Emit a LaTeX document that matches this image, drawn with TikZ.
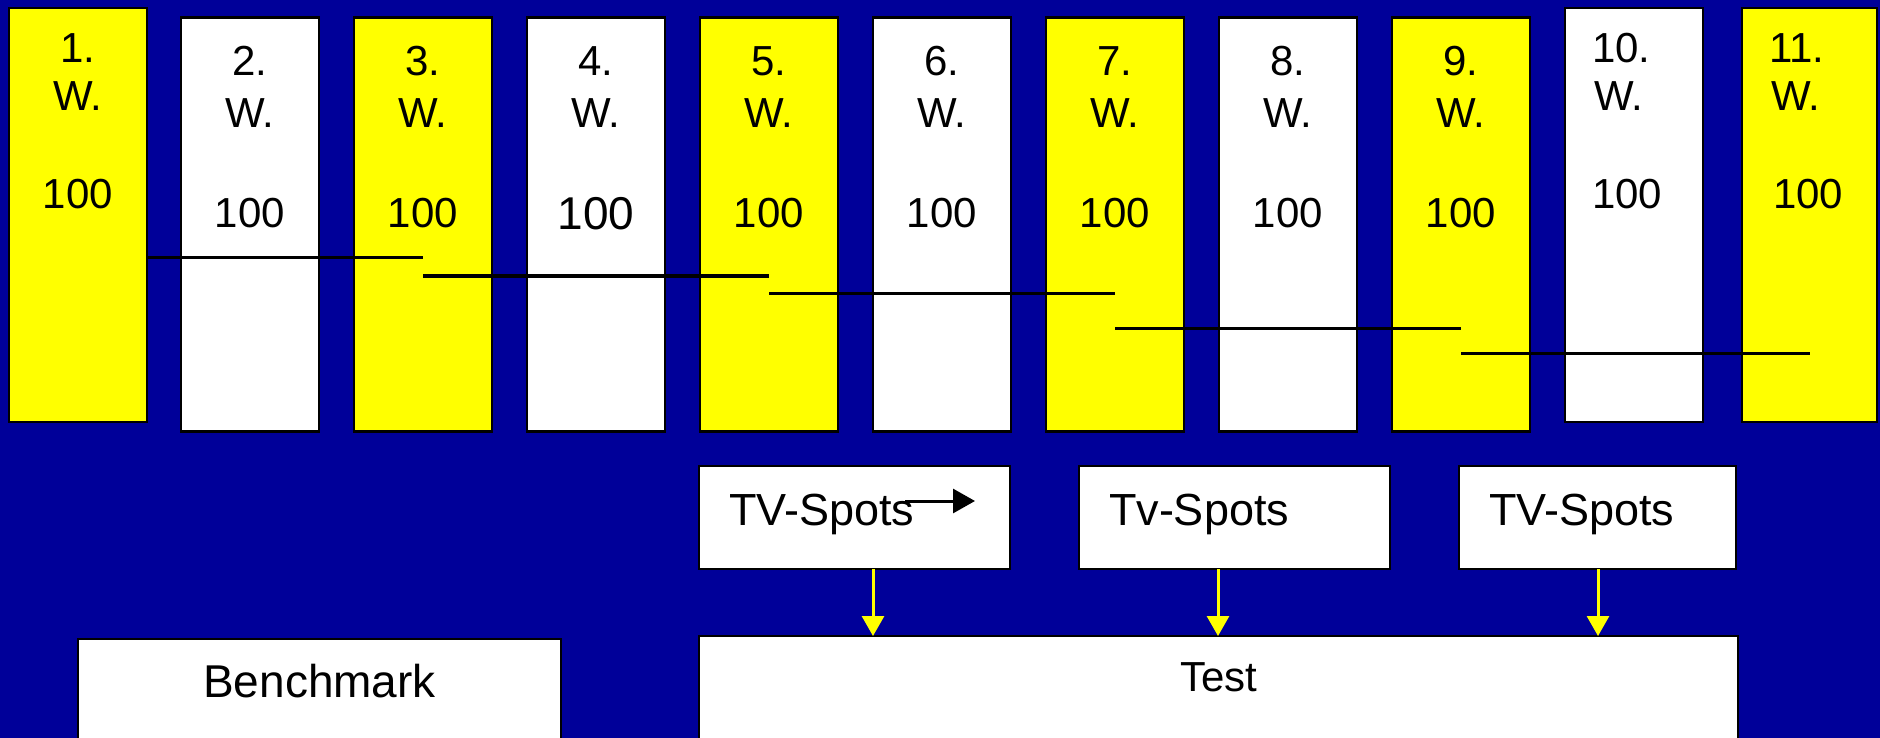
\documentclass[tikz,border=0pt]{standalone}
\usepackage{fontspec}
\setmainfont{Liberation Sans}
\usetikzlibrary{arrows.meta}
\definecolor{slidebg}{HTML}{000099}
\definecolor{weekyellow}{HTML}{FFFF00}
\begin{document}
\begin{tikzpicture}[x=1pt,y=-1pt,
  every node/.style={inner sep=0pt, outer sep=0pt},
  weekbox/.style={draw=black, line width=2.5pt, minimum width=138pt, minimum height=414pt},
  panel/.style={draw=black, fill=white, line width=2.5pt, anchor=north west},
  wtext/.style={anchor=base, font=\fontsize{42}{50}\selectfont},
  wtextl/.style={anchor=base west, font=\fontsize{42}{50}\selectfont},
  tvtext/.style={anchor=base west, font=\fontsize{45}{54}\selectfont},
  stepline/.style={draw=black, line width=3pt},
  yarrow/.style={draw=weekyellow, line width=3pt, -{Triangle[length=20pt,width=22pt]}}
]
% background
\fill[slidebg] (0,0) rectangle (1880,738);
\useasboundingbox (0,0) rectangle (1880,738);
\clip (0,0) rectangle (1880,738);

% week columns
\node[weekbox, fill=weekyellow] (w1) at (78,215) {};
\foreach \i/\x/\c in {2/250/white, 3/423/weekyellow, 4/596/white, 5/769/weekyellow,
                      6/942/white, 7/1115/weekyellow, 8/1288/white, 9/1461/weekyellow}
  \node[weekbox, fill=\c] (w\i) at (\x,224.5) {};
\node[weekbox, fill=white] (w10) at (1634,215) {};
\node[weekbox, fill=weekyellow, minimum width=135pt] (w11) at (1809.5,215) {};

% week labels
\node[wtext] (n1) at (w1.center |- 0,63) {1.};
\node[wtext] (ww1) at (w1.center |- 0,111) {W.};
\node[wtext] (v1) at (w1.center |- 0,209) {100};
\foreach \i in {2,...,9} {
  \node[wtext] (n\i) at (w\i.center |- 0,76) {\i.};
  \node[wtext] (ww\i) at (w\i.center |- 0,128) {W.};
}
\foreach \i in {2,3,5,6,7,8,9}
  \node[wtext] (v\i) at (w\i.center |- 0,228) {100};
\node[wtext, font=\fontsize{46}{55}\selectfont] (v4) at (w4.center |- 0,230) {100};
\node[wtextl] (n10) at (1592,63) {10.};
\node[wtextl] (ww10) at (1594,111) {W.};
\node[wtextl] (v10) at (1592,209) {100};
\node[wtextl] (n11) at (1769,63) {11.};
\node[wtextl] (ww11) at (1771,111) {W.};
\node[wtextl] (v11) at (1773,209) {100};

% descending step lines
\draw[stepline] (w1.east |- 0,258) -- (w3.center |- 0,258);
\draw[stepline] (w3.center |- 0,276) -- (w5.center |- 0,276);
\draw[stepline] (w5.center |- 0,293) -- (w7.center |- 0,293);
\draw[stepline] (w7.center |- 0,328) -- (w9.center |- 0,328);
\draw[stepline] (w9.center |- 0,353) -- (w11.center |- 0,353);

% TV spot boxes
\node[panel, minimum width=311pt, minimum height=103pt] (tvA) at (699,466) {};
\node[panel, minimum width=311pt, minimum height=103pt] (tvB) at (1079,466) {};
\node[panel, minimum width=277pt, minimum height=103pt] (tvC) at (1459,466) {};
\node[tvtext] (tvAt) at (729,525) {TV-Spots};
\node[tvtext] (tvBt) at (1109,525) {Tv-Spots};
\node[tvtext] (tvCt) at (1489,525) {TV-Spots};
\coordinate (arrS) at (905,501);
\coordinate (arrE) at (975,501);
\draw[line width=3pt, -{Triangle[length=22pt,width=24pt]}] (arrS) -- (arrE);

% benchmark and test panels
\node[panel, minimum width=483pt, minimum height=200pt] (bench) at (78,639) {};
\node[panel, minimum width=1039pt, minimum height=200pt] (test) at (699,636) {};
\node[anchor=base, font=\fontsize{46}{55}\selectfont] (benchT) at (bench.north |- 0,697) {Benchmark};
\node[anchor=base, font=\fontsize{42}{50}\selectfont] (testT) at (1219,691) {Test};

% spots feeding the test
\draw[yarrow] (tvA.south -| 873,0) -- (test.north -| 873,0);
\draw[yarrow] (tvB.south -| 1218,0) -- (test.north -| 1218,0);
\draw[yarrow] (tvC.south -| 1598,0) -- (test.north -| 1598,0);
\end{tikzpicture}
\end{document}
